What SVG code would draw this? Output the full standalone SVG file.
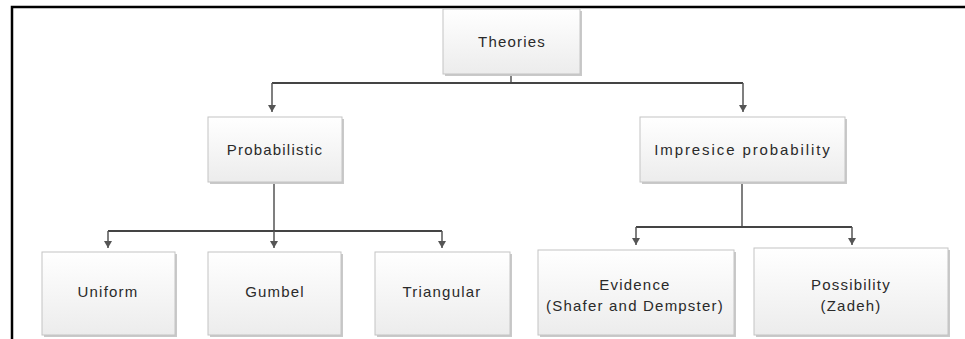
<svg xmlns="http://www.w3.org/2000/svg" width="965" height="339" viewBox="0 0 965 339">
<style>
.box{fill:url(#g);stroke:#c4c4c4;stroke-width:1}
.sh{fill:#c9c9c9}
.t{font-family:"Liberation Sans",Arial,sans-serif;font-size:15px;fill:#2a2a2a;text-anchor:middle;letter-spacing:1.2px}
.c{fill:none;stroke:#555;stroke-width:1.5}
.h{fill:none;stroke:#444;stroke-width:2}
</style>
<defs>
<linearGradient id="g" x1="0" y1="0" x2="0" y2="1">
<stop offset="0" stop-color="#ffffff"/>
<stop offset="1" stop-color="#ececec"/>
</linearGradient>
<marker id="a" markerWidth="7" markerHeight="8" refX="7" refY="4" orient="auto" markerUnits="userSpaceOnUse" viewBox="0 0 7 8">
<path d="M0,0 L7,4 L0,8 z" fill="#555"/>
</marker>
</defs>
<rect width="965" height="339" fill="#fff"/>
<path d="M12,339 V7 H965" fill="none" stroke="#000" stroke-width="2.5"/>
<g id="connectors">
<path class="c" d="M511,74 V83"/>
<path class="h" d="M272,83 H743"/>
<path class="c" d="M272,83 V112" marker-end="url(#a)"/>
<path class="c" d="M743,83 V112" marker-end="url(#a)"/>
<path class="c" d="M274,182 V231"/>
<path class="h" d="M108,231 H442"/>
<path class="c" d="M108,231 V248" marker-end="url(#a)"/>
<path class="c" d="M274,231 V248" marker-end="url(#a)"/>
<path class="c" d="M442,231 V248" marker-end="url(#a)"/>
<path class="c" d="M742,182 V227"/>
<path class="h" d="M636,227 H852"/>
<path class="c" d="M636,227 V245" marker-end="url(#a)"/>
<path class="c" d="M852,227 V245" marker-end="url(#a)"/>
</g>
<g id="theories">
<rect class="sh" x="445" y="11" width="137" height="65"/>
<rect class="box" x="443" y="9" width="137" height="65"/>
<text class="t" x="512" y="47">Theories</text>
</g>
<g id="probabilistic">
<rect class="sh" x="210" y="119" width="134" height="65"/>
<rect class="box" x="208" y="117" width="134" height="65"/>
<text class="t" x="275" y="155">Probabilistic</text>
</g>
<g id="imprecise">
<rect class="sh" x="642" y="119" width="205" height="65"/>
<rect class="box" x="640" y="117" width="205" height="65"/>
<text class="t" x="743" y="155" style="letter-spacing:1.9px">Impresice probability</text>
</g>
<g id="uniform">
<rect class="sh" x="44" y="254" width="133" height="83"/>
<rect class="box" x="42" y="252" width="133" height="83"/>
<text class="t" x="108" y="297">Uniform</text>
</g>
<g id="gumbel">
<rect class="sh" x="210" y="254" width="133" height="83"/>
<rect class="box" x="208" y="252" width="133" height="83"/>
<text class="t" x="275" y="297">Gumbel</text>
</g>
<g id="triangular">
<rect class="sh" x="377" y="254" width="135" height="83"/>
<rect class="box" x="375" y="252" width="135" height="83"/>
<text class="t" x="442" y="297">Triangular</text>
</g>
<g id="evidence">
<rect class="sh" x="540" y="252" width="196" height="85"/>
<rect class="box" x="538" y="250" width="196" height="85"/>
<text class="t" x="635" y="290">Evidence</text>
<text class="t" x="635" y="311">(Shafer and Dempster)</text>
</g>
<g id="possibility">
<rect class="sh" x="756" y="250" width="194" height="87"/>
<rect class="box" x="754" y="248" width="194" height="87"/>
<text class="t" x="851" y="290">Possibility</text>
<text class="t" x="851" y="311">(Zadeh)</text>
</g>
</svg>
